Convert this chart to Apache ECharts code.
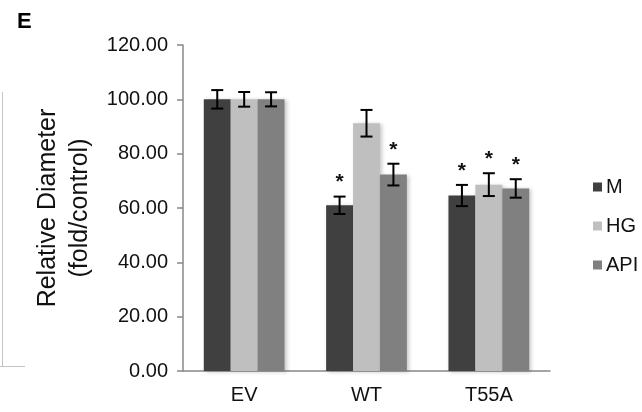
<!DOCTYPE html>
<html>
<head>
<meta charset="utf-8">
<script src="https://cdn.jsdelivr.net/npm/echarts@6/dist/echarts.min.js"></script>
<style>
  html, body { margin: 0; padding: 0; background: #fff; }
  #main { width: 642px; height: 412px; }
</style>
</head>
<body>
<div id="main"></div>
<script>
// categories and series
var categories = ['EV', 'WT', 'T55A'];
var seriesNames = ['M', 'HG', 'API'];

// bar values (fold/control)
var mValues = [100, 61.0, 64.6];
var hgValues = [100, 91.2, 68.6];
var apiValues = [100, 72.3, 67.2];

// error bar half-lengths
var mErr = [3.4, 3.2, 3.9];
var hgErr = [2.7, 4.9, 4.2];
var apiErr = [2.6, 4.0, 3.4];

// significance stars (1 = show *)
var mStar = [0, 1, 1];
var hgStar = [0, 0, 1];
var apiStar = [0, 1, 1];

var colors = ['#404040', '#bfbfbf', '#808080'];
var font = 'Liberation Sans, Arial, Helvetica, sans-serif';
var gapPct = 34;

var myChart = echarts.init(document.getElementById('main'));

var values = [mValues, hgValues, apiValues];
var errs = [mErr, hgErr, apiErr];
var stars = [mStar, hgStar, apiStar];

var series = [];
// bars
for (var i = 0; i < 3; i++) {
    series.push({
        name: seriesNames[i],
        type: 'bar',
        data: values[i],
        barGap: '0%',
        barCategoryGap: gapPct + '%',
        itemStyle: {
            color: colors[i],
            shadowColor: 'rgba(0,0,0,0.22)',
            shadowBlur: 4,
            shadowOffsetX: 2,
            shadowOffsetY: 1
        }
    });
}
// error bars + stars
for (var j = 0; j < 3; j++) {
    (function (idx) {
        var d = [];
        for (var k = 0; k < categories.length; k++) {
            d.push([k, values[idx][k], errs[idx][k], stars[idx][k]]);
        }
        series.push({
            name: seriesNames[idx] + '_err',
            type: 'custom',
            z: 10,
            data: d,
            encode: { x: 0, y: 1 },
            renderItem: function (params, api) {
                var cat = api.value(0), val = api.value(1), err = api.value(2), star = api.value(3);
                var bandW = api.size([1, 0])[0];
                var barW = bandW * (1 - gapPct / 100) / 3;
                var cx = api.coord([cat, 0])[0] + (idx - 1) * barW;
                var yTop = api.coord([cat, val + err])[1];
                var yBot = api.coord([cat, val - err])[1];
                var hw = 6;
                var st = { stroke: '#000', lineWidth: 2 };
                var children = [
                    { type: 'line', shape: { x1: cx, y1: yTop, x2: cx, y2: yBot }, style: st },
                    { type: 'line', shape: { x1: cx - hw, y1: yTop, x2: cx + hw, y2: yTop }, style: st },
                    { type: 'line', shape: { x1: cx - hw, y1: yBot, x2: cx + hw, y2: yBot }, style: st }
                ];
                if (star) {
                    children.push({
                        type: 'text',
                        style: {
                            text: '*', x: cx, y: yTop - 14,
                            align: 'center', verticalAlign: 'middle',
                            font: 'bold 21px ' + font, fill: '#111'
                        }
                    });
                }
                return { type: 'group', children: children };
            }
        });
    })(j);
}

option = {
    animation: false,
    backgroundColor: '#fff',
    grid: { left: 183, right: 92, top: 45, bottom: 41 },
    legend: {
        data: seriesNames,
        orient: 'vertical',
        left: 588,
        top: 172,
        icon: 'rect',
        itemWidth: 9,
        itemHeight: 9,
        itemGap: 19,
        textStyle: { fontFamily: font, fontSize: 20, color: '#111', lineHeight: 20, padding: [0, 0, 0, -1] }
    },
    xAxis: {
        type: 'category',
        data: categories,
        axisLine: { lineStyle: { color: '#888', width: 1.5 } },
        axisTick: { length: 7, lineStyle: { color: '#888', width: 1.5 } },
        axisLabel: { fontFamily: font, fontSize: 20, color: '#111', margin: 14 }
    },
    yAxis: {
        type: 'value',
        min: 0,
        max: 120,
        interval: 20,
        name: 'Relative Diameter\n(fold/control)',
        nameLocation: 'middle',
        nameRotate: 90,
        nameGap: 86,
        nameTextStyle: { fontFamily: font, fontSize: 25, color: '#111', lineHeight: 32 },
        axisLine: { show: true, lineStyle: { color: '#888', width: 1.5 } },
        axisTick: { show: true, length: 6, lineStyle: { color: '#888', width: 1.5 } },
        splitLine: { show: false },
        axisLabel: {
            fontFamily: font, fontSize: 20, color: '#111', margin: 15,
            formatter: function (v) { return v.toFixed(2); }
        }
    },
    graphic: [
        { type: 'text', left: 17, top: 11, style: { text: 'E', font: 'bold 22px ' + font, fill: '#000' } },
        { type: 'line', shape: { x1: 2.5, y1: 92, x2: 2.5, y2: 367 }, style: { stroke: '#c4c4c4', lineWidth: 1 } },
        { type: 'line', shape: { x1: 0, y1: 366.5, x2: 25, y2: 366.5 }, style: { stroke: '#c4c4c4', lineWidth: 1 } }
    ],
    series: series
};

myChart.setOption(option);
</script>
</body>
</html>
